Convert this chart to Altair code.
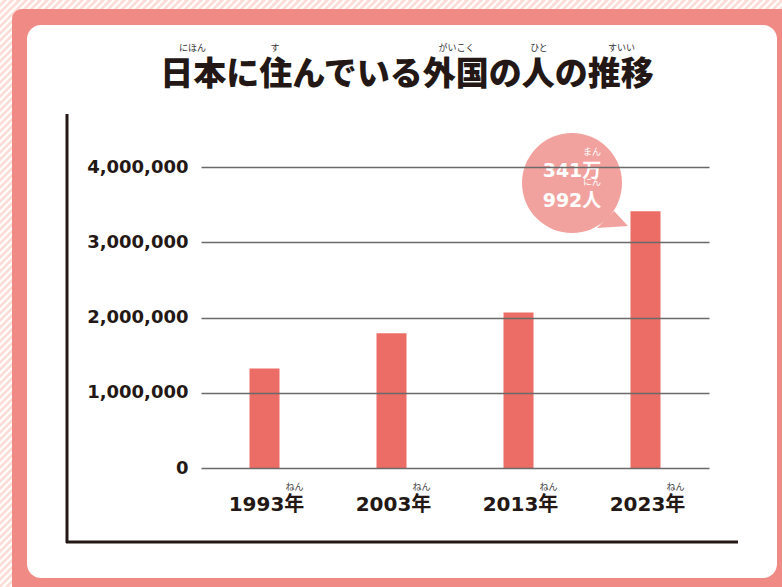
import altair as alt
import pandas as pd

# ---- data ----
years = ["1993年", "2003年", "2013年", "2023年"]
counts = [1320748, 1790000, 2066445, 3410992]
y_ticks = [0, 1000000, 2000000, 3000000, 4000000]
title_text = "日本に住んでいる外国の人の推移"
title_ruby = ["にほん", "す", "がいこく", "ひと", "すいい"]
title_ruby_chars = [1.0, 3.5, 9.0, 11.5, 14.0]  # char-centre index in title
bubble_lines = ["341万", "992人"]
bubble_ruby = ["まん", "にん"]
year_ruby = "ねん"

df = pd.DataFrame({"year": years, "count": counts})
one = pd.DataFrame({"a": [0]})

# ---- layout ----
W, H = 508, 301
PL, PT = 201, 167
PR, PB = 782 - PL - W, 587 - PT - H


def px(x):
    return x - PL


def py(y):
    return y - PT


FONT = "DejaVu Sans, Noto Sans CJK JP"
INK = "#231815"
BAR = "#ec6d66"
BUBBLE = "#f2a29e"
SALMON = "#f08a85"
PINK = "#fdddd7"

# stripes on outer background
stripes = (
    alt.Chart(alt.sequence(0, 210, as_="i"))
    .transform_calculate(
        sx="datum.i*7 - 620 - %d" % PL,
        sy=str(587 - PT),
        sx2="datum.i*7 - 620 + 587 - %d" % PL,
        sy2=str(0 - PT),
    )
    .mark_rule(color="white", strokeWidth=2.2)
    .encode(
        x=alt.X("sx:Q", scale=None),
        y=alt.Y("sy:Q", scale=None),
        x2="sx2:Q",
        y2="sy2:Q",
    )
)

salmon = alt.Chart(one).mark_rect(color=SALMON, cornerRadius=10).encode(
    x=alt.value(px(12)), x2=alt.value(px(800)), y=alt.value(py(9)), y2=alt.value(py(600))
)
white = alt.Chart(one).mark_rect(color="white", cornerRadius=14).encode(
    x=alt.value(px(27)), x2=alt.value(px(777)), y=alt.value(py(25)), y2=alt.value(py(578))
)

vline = alt.Chart(one).mark_rule(color=INK, strokeWidth=3).encode(
    x=alt.value(px(67)), y=alt.value(py(114)), y2=alt.value(py(543))
)
hline = alt.Chart(one).mark_rule(color=INK, strokeWidth=3).encode(
    y=alt.value(py(542)), x=alt.value(px(66)), x2=alt.value(px(738))
)

xenc = alt.X("year:N", sort=years, axis=None,
             scale=alt.Scale(paddingInner=0, paddingOuter=0))

bars = alt.Chart(df).mark_bar(size=30, color=BAR).encode(
    x=xenc,
    y=alt.Y(
        "count:Q",
        scale=alt.Scale(domain=[0, 4000000], nice=False),
        axis=alt.Axis(
            values=y_ticks, format=",d", title=None, grid=True, zindex=1,
            ticks=False, tickSize=0, domain=False, labelPadding=13,
            labelFont=FONT, labelFontSize=18, labelFontWeight="bold",
            labelColor=INK, gridColor="#6a6a6a", gridWidth=1.6,
        ),
    ),
)

xlabels = alt.Chart(df).mark_text(
    font=FONT, fontSize=20, fontWeight="bold", color=INK, baseline="middle", dx=2
).encode(x=xenc, y=alt.value(py(505)), text="year:N")

xruby = alt.Chart(df).transform_calculate(r="'%s'" % year_ruby).mark_text(
    font="Noto Sans CJK JP", fontSize=9, color="#444444", baseline="middle", dx=30
).encode(x=xenc, y=alt.value(py(487)), text="r:N")

# bubble
bx, by = 572, 183
circle = alt.Chart(one).mark_circle(color=BUBBLE, opacity=1, size=10000).encode(
    x=alt.value(px(bx)), y=alt.value(py(by))
)
tail = alt.Chart(one).mark_point(
    shape="M0.5,0.9L0.84,0.56L1.12,0.86Z", filled=True, color=BUBBLE,
    opacity=1, size=10000, strokeWidth=0,
).encode(x=alt.value(px(bx)), y=alt.value(py(by)))

btxt = pd.DataFrame({"t": bubble_lines, "r": bubble_ruby, "k": [0, 1]})
bubble_text = alt.Chart(btxt).transform_calculate(
    yy="%f + datum.k*29.5" % py(171)
).mark_text(
    font=FONT, fontSize=19, fontWeight="bold", color="white", baseline="middle"
).encode(x=alt.value(px(bx)), y=alt.Y("yy:Q", scale=None), text="t:N")
bubble_ruby_t = alt.Chart(btxt).transform_calculate(
    yy="%f + datum.k*30" % py(152)
).mark_text(
    font="Noto Sans CJK JP", fontSize=9, color="white", baseline="middle"
).encode(x=alt.value(px(592)), y=alt.Y("yy:Q", scale=None), text="r:N")

# title
TX, TY, TS = 407, 75, 33
title = alt.Chart(one).mark_text(
    text=title_text, font="Noto Sans CJK JP", fontWeight=900, fontSize=TS,
    color=INK, baseline="middle", align="center",
).encode(x=alt.value(px(TX)), y=alt.value(py(TY)))

tstart = TX - TS * len(title_text) / 2
rdf = pd.DataFrame({"r": title_ruby, "c": title_ruby_chars})
title_ruby_t = alt.Chart(rdf).transform_calculate(
    xx="%f + datum.c*%f" % (px(tstart), TS)
).mark_text(
    font="Noto Sans CJK JP", fontSize=9, color="#333333", baseline="middle"
).encode(x=alt.X("xx:Q", scale=None), y=alt.value(py(48)), text="r:N")

chart = (
    alt.layer(
        stripes, salmon, white, vline, hline, bars, xlabels, xruby,
        circle, tail, bubble_text, bubble_ruby_t, title, title_ruby_t,
    )
    .properties(
        width=W, height=H,
        autosize=alt.AutoSizeParams(type="none"),
        padding={"left": PL, "top": PT, "right": PR, "bottom": PB},
        background=PINK,
    )
    .configure_view(stroke=None, fill=None)
)

chart.save("out.html", embed_options={"renderer": "svg", "actions": False})
